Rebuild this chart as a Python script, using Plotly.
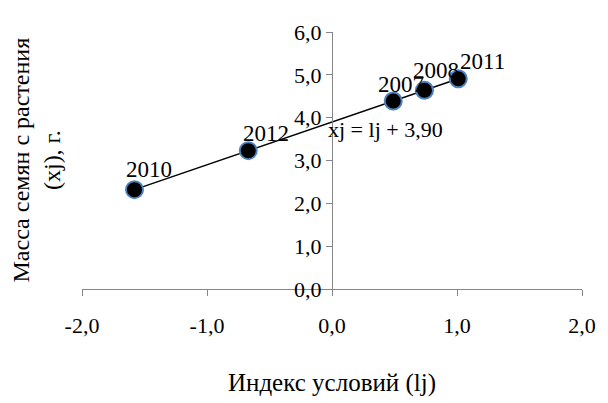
import numpy as np
import plotly.graph_objects as go

years = ["2007", "2008", "2010", "2011", "2012"]
lj = [0.49, 0.74, -1.58, 1.01, -0.67]
xj = [4.39, 4.64, 2.32, 4.91, 3.23]
x_ticks = [-2.0, -1.0, 0.0, 1.0, 2.0]
y_ticks = [0.0, 1.0, 2.0, 3.0, 4.0, 5.0, 6.0]
trend_label = "xj = lj + 3,90"
x_title = "Индекс условий (lj)"
y_title = "Масса семян с растения<br>(xj), г."

label_shift = {"2007": (8, 16), "2008": (11, 20), "2010": (14, 20), "2011": (24, 17), "2012": (18, 17)}

font = "Times New Roman, serif"
axis_color = "#868686"


def fmt(v):
    return f"{v:.1f}".replace(".", ",")


slope, intercept = np.polyfit(lj, xj, 1)
tx = np.array([min(lj), max(lj)])
ty = slope * tx + intercept

fig = go.Figure()
fig.add_trace(go.Scatter(x=tx, y=ty, mode="lines", line=dict(color="black", width=1.5),
                         hoverinfo="skip", showlegend=False))
fig.add_trace(go.Scatter(x=lj, y=xj, mode="markers",
                         marker=dict(size=17, color="black", line=dict(color="#4F81BD", width=2)),
                         showlegend=False))

for yr, xv, yv in zip(years, lj, xj):
    dx, dy = label_shift[yr]
    fig.add_annotation(x=xv, y=yv, text=yr, showarrow=False, xshift=dx, yshift=dy,
                       font=dict(family=font, size=23, color="black"))

fig.add_annotation(x=0.43, y=3.73, text=trend_label, showarrow=False,
                   font=dict(family=font, size=22, color="black"))

fig.add_annotation(xref="paper", yref="paper", x=-0.092, y=0.5, xanchor="center", yanchor="middle",
                   text=y_title, textangle=-90, showarrow=False,
                   font=dict(family=font, size=24, color="black"))

fig.update_layout(
    width=600, height=395,
    margin=dict(l=74, r=16, t=19, b=110),
    paper_bgcolor="white", plot_bgcolor="white",
    xaxis=dict(range=[-2, 2], tickvals=x_ticks, ticktext=[fmt(v) for v in x_ticks],
               showgrid=False, zeroline=False,
               showline=True, linecolor=axis_color, linewidth=1.3,
               ticks="outside", ticklen=6, tickcolor=axis_color, ticklabelstandoff=10,
               tickfont=dict(family=font, size=22, color="black"),
               title=dict(text=x_title, font=dict(family=font, size=25, color="black"), standoff=36)),
    yaxis=dict(range=[0, 6], tickvals=y_ticks, ticktext=[fmt(v) for v in y_ticks],
               showgrid=False, zeroline=False,
               showline=True, linecolor=axis_color, linewidth=1.3,
               ticks="outside", ticklen=6, tickcolor=axis_color,
               anchor="free", position=0.5,
               tickfont=dict(family=font, size=22, color="black")),
)

fig.write_html("out.html")
